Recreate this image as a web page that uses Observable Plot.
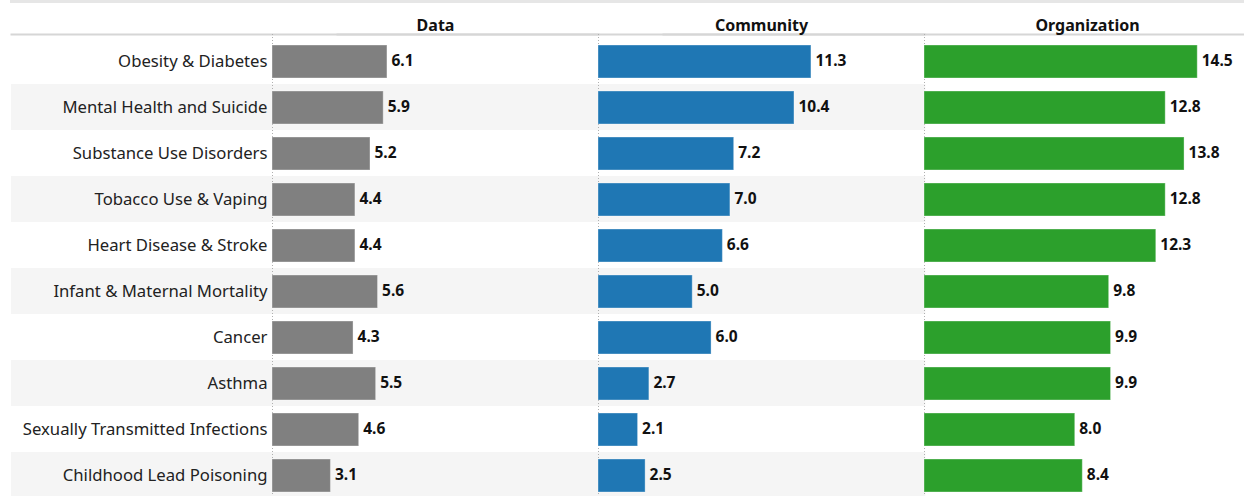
<!DOCTYPE html>
<html>
<head>
<meta charset="utf-8">
<script src="https://cdn.jsdelivr.net/npm/d3@7"></script>
<script src="https://cdn.jsdelivr.net/npm/@observablehq/plot@0.6"></script>
<style>
  html, body { margin: 0; padding: 0; overflow: hidden; background: #fff; width: 1244px; height: 496px; }
  #wrap { position: relative; width: 1244px; height: 496px; overflow: hidden; }
  #topband { position: absolute; left: 10px; top: 0; width: 1234px; height: 3px; background: #e6e6e6; z-index: 1; }
  #chart { position: absolute; left: 0; top: 0; }
  #chart svg { max-width: none !important; display: block; }
</style>
</head>
<body>
<div id="wrap">
<div id="topband"></div>
<div id="chart"></div>
</div>
<script>
const categories = [
  "Obesity & Diabetes",
  "Mental Health and Suicide",
  "Substance Use Disorders",
  "Tobacco Use & Vaping",
  "Heart Disease & Stroke",
  "Infant & Maternal Mortality",
  "Cancer",
  "Asthma",
  "Sexually Transmitted Infections",
  "Childhood Lead Poisoning"
];
const seriesNames = ["Data", "Community", "Organization"];
const dataValues = [6.1, 5.9, 5.2, 4.4, 4.4, 5.6, 4.3, 5.5, 4.6, 3.1];
const communityValues = [11.3, 10.4, 7.2, 7.0, 6.6, 5.0, 6.0, 2.7, 2.1, 2.5];
const organizationValues = [14.5, 12.8, 13.8, 12.8, 12.3, 9.8, 9.9, 9.9, 8.0, 8.4];
const seriesColors = ["#808080", "#1f77b4", "#2ca02c"];

const valuesBySeries = [dataValues, communityValues, organizationValues];
const rows = [];
seriesNames.forEach((s, si) => {
  categories.forEach((c, ci) => rows.push({series: s, category: c, value: valuesBySeries[si][ci]}));
});
const stripes = categories.filter((c, i) => i % 2 === 1).map(c => ({category: c, panel: seriesNames[0]}));

const W = 1251, ML = 271;
const panelW = (W - ML) / 3;

const chart = Plot.plot({
  width: W,
  height: 502,
  marginLeft: ML,
  marginRight: 0,
  marginTop: 34,
  marginBottom: 0,
  style: {fontFamily: "'Noto Sans', sans-serif", color: "#222", background: "transparent", maxWidth: "none"},
  x: {domain: [0, 17.3], axis: null},
  y: {domain: categories, padding: 0, axis: null},
  fx: {domain: seriesNames, padding: 0, axis: null},
  color: {domain: seriesNames, range: seriesColors},
  marks: [
    Plot.barX(stripes, {y: "category", fx: "panel", fill: "#f5f5f5", insetLeft: -(ML - 10), insetRight: -2 * panelW}),
    Plot.frame({anchor: "top", stroke: "#d6d6d6", strokeWidth: 2, insetLeft: -(ML - 10)}),
    Plot.ruleX([0], {stroke: "#b0b0b0", strokeDasharray: "1,2"}),
    Plot.barX(rows, {x: "value", y: "category", fx: "series", fill: "series", insetTop: 7, insetBottom: 6, stroke: "white", strokeOpacity: 0.35, strokeWidth: 1}),
    Plot.text(rows, {x: "value", y: "category", fx: "series", text: d => d.value.toFixed(1), textAnchor: "start", dx: 4, fontWeight: "bold", fontSize: 15.5, fill: "#111"}),
    Plot.axisFx({anchor: "top", tickSize: 0, tickPadding: 4, fontWeight: "bold", fontSize: 16, label: null, fill: "#111"}),
    Plot.axisY({tickSize: 0, tickPadding: 5, fontSize: 16.7, label: null, fill: "#222"})
  ]
});
document.getElementById("chart").appendChild(chart);
</script>
</body>
</html>
